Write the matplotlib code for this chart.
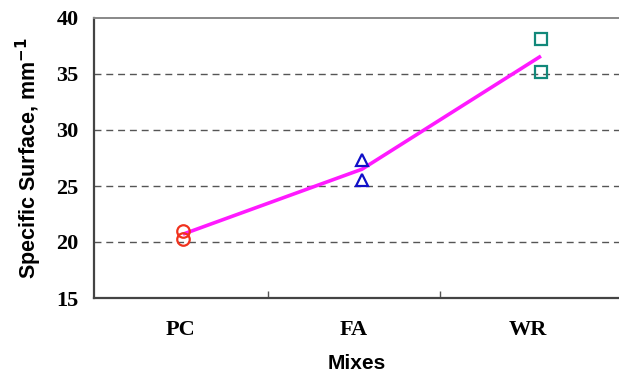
import numpy as np
import matplotlib.pyplot as plt

# categories and measured values (two specimens per mix)
mixes = ["PC", "FA", "WR"]
specimen_1 = [21.0, 27.3, 38.1]
specimen_2 = [20.3, 25.5, 35.2]
mean_line = [20.7, 26.5, 36.6]
y_ticks = [15, 20, 25, 30, 35, 40]

marker_styles = [("o", "#f0321e"), ("^", "#1010c8"), ("s", "#12887a")]

fig = plt.figure(figsize=(6.19, 3.79), dpi=100)
ax = fig.add_axes([94 / 619, 81 / 379, 525 / 619, 280 / 379])

x = np.arange(1, len(mixes) + 1)

# mean line
ax.plot(x, mean_line, color="#ff1aff", lw=2.6, zorder=2,
        solid_capstyle="butt")

# individual specimens
for i, (m, c) in enumerate(marker_styles):
    ax.plot([x[i], x[i]], [specimen_1[i], specimen_2[i]], ls="none",
            marker=m, ms=9, mfc="none", mec=c, mew=1.6, zorder=3)

ax.set_xlim(0.503, 3.436)
ax.set_ylim(15, 40)

# dashed gridlines
for yv in y_ticks[1:-1]:
    ax.axhline(yv, color="#555555", lw=1.0, ls=(0, (5, 3.5)), zorder=1)

ax.set_yticks(y_ticks)
ax.set_yticklabels([str(v) for v in y_ticks], fontfamily="Liberation Serif",
                   fontweight="bold", fontsize=16)
ax.tick_params(axis="y", length=0, pad=11)

# category labels and separator ticks
label_pos = [0.985, 1.955, 2.925]
ax.set_xticks(label_pos)
ax.set_xticklabels(mixes, fontfamily="Liberation Serif", fontweight="bold",
                   fontsize=16)
ax.tick_params(axis="x", length=0, pad=16)
ax.set_xticks([1.475, 2.436], minor=True)
ax.tick_params(axis="x", which="minor", direction="in", length=5,
               color="#555555", width=1)

ax.set_xlabel("Mixes", fontfamily="Liberation Sans", fontweight="bold",
              fontsize=15, labelpad=10)
ax.set_ylabel("Specific Surface, mm$^{\\mathbf{-1}}$", fontfamily="Liberation Sans",
              fontweight="bold", fontsize=15.5, labelpad=9)

for side in ["left", "bottom"]:
    ax.spines[side].set_color("#444444")
    ax.spines[side].set_linewidth(1.6)
ax.spines["top"].set_color("#888888")
ax.spines["top"].set_linewidth(1.4)
ax.spines["right"].set_visible(False)

fig.savefig("out.png", dpi=100)
